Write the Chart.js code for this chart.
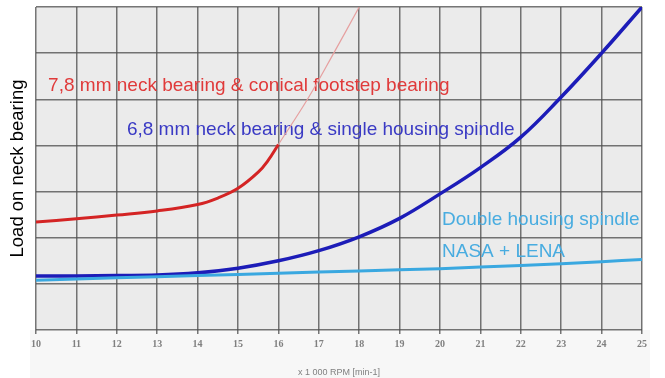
<!DOCTYPE html>
<html>
<head>
<meta charset="utf-8">
<script src="https://cdn.jsdelivr.net/npm/chart.js@4.4.1/dist/chart.umd.min.js"></script>
<style>
  html, body { margin: 0; padding: 0; background: #fff; }
  #wrap { width: 665px; height: 378px; }
</style>
</head>
<body>
<div id="wrap"><canvas id="myChart" width="665" height="378"></canvas></div>
<script>
// x 1000 RPM
const rpmRed = [10, 11, 12, 13, 14, 14.5, 15, 15.5, 15.75, 16];
const loadRed = [2.34, 2.41, 2.49, 2.58, 2.72, 2.86, 3.07, 3.42, 3.68, 4.02];

// thin continuation of the red curve
const rpmRedExt = [16, 16.72, 17.37, 18];
const loadRedExt = [4.02, 5.0, 6.0, 7.0];

const rpmBlue = [10, 11, 12, 13, 14, 15, 16, 17, 18, 19, 20, 21, 22, 23, 24, 25];
const loadBlue = [1.17, 1.17, 1.18, 1.19, 1.24, 1.34, 1.50, 1.72, 2.02, 2.42, 2.95, 3.52, 4.18, 5.05, 6.0, 7.0];

const rpmLight = [10, 12, 14, 16, 18, 20, 22, 24, 25];
const loadLight = [1.08, 1.13, 1.18, 1.23, 1.28, 1.33, 1.40, 1.48, 1.53];

const xTicks = [10, 11, 12, 13, 14, 15, 16, 17, 18, 19, 20, 21, 22, 23, 24, 25];

const labelTexts = [
    '7,8 mm neck bearing & conical footstep bearing',
    '6,8 mm neck bearing & single housing spindle',
    'Double housing spindle',
    'NASA + LENA'
];

function pts(xs, ys) {
    return xs.map((x, i) => ({ x: x, y: ys[i] }));
}

// where the curve names sit (data units) and their colours
const labelSpots = [
    { x: 10.3, y: 5.29, color: '#e03a3a' },
    { x: 12.25, y: 4.33, color: '#3a3ac4' },
    { x: 20.05, y: 2.38, color: '#48ace0' },
    { x: 20.05, y: 1.69, color: '#48ace0' }
];

const background = {
    id: 'background',
    beforeDraw(chart) {
        const { ctx, chartArea } = chart;
        ctx.save();
        ctx.fillStyle = '#f7f7f7';
        ctx.fillRect(chartArea.left - 6, chartArea.bottom, chartArea.right - chartArea.left + 14, chart.height - chartArea.bottom);
        ctx.fillStyle = '#ebebeb';
        ctx.fillRect(chartArea.left, chartArea.top, chartArea.right - chartArea.left, chartArea.bottom - chartArea.top);
        ctx.restore();
    }
};

const curveNames = {
    id: 'curveNames',
    beforeDatasetsDraw(chart) {
        const ctx = chart.ctx;
        const xs = chart.scales.x, ys = chart.scales.y;
        ctx.save();
        ctx.font = '19px "Liberation Sans", Arial, sans-serif';
        ctx.textBaseline = 'middle';
        ctx.textAlign = 'left';
        labelTexts.forEach((t, i) => {
            const s = labelSpots[i];
            ctx.fillStyle = s.color;
            ctx.fillText(t, xs.getPixelForValue(s.x), ys.getPixelForValue(s.y));
        });
        ctx.restore();
    }
};

const ctx = document.getElementById('myChart').getContext('2d');
const myChart = new Chart(ctx, {
    type: 'line',
    data: {
        datasets: [{
            label: 'NASA + LENA',
            data: pts(rpmLight, loadLight),
            borderColor: '#3aa8e0',
            borderWidth: 3,
            pointRadius: 0,
            tension: 0.4
        }, {
            label: '6,8 mm',
            data: pts(rpmBlue, loadBlue),
            borderColor: '#1c1cb8',
            borderWidth: 3.5,
            pointRadius: 0,
            tension: 0.4
        }, {
            label: '7,8 mm ext',
            data: pts(rpmRedExt, loadRedExt),
            borderColor: '#e6a0a0',
            borderWidth: 1.2,
            pointRadius: 0,
            tension: 0.4
        }, {
            label: '7,8 mm',
            data: pts(rpmRed, loadRed),
            borderColor: '#d42424',
            borderWidth: 3,
            pointRadius: 0,
            tension: 0.4
        }]
    },
    options: {
        responsive: false,
        animation: false,
        layout: { padding: { top: 7, right: 23, left: 0, bottom: 0 } },
        plugins: {
            legend: { display: false },
            tooltip: { enabled: false }
        },
        scales: {
            x: {
                type: 'linear',
                min: 10,
                max: 25,
                afterBuildTicks: (scale) => { scale.ticks = xTicks.map(v => ({ value: v })); },
                afterFit: (scale) => { scale.height = 48; },
                border: { display: false },
                grid: {
                    color: 'rgba(80, 80, 80, 0.78)',
                    lineWidth: 1.5,
                    drawTicks: true,
                    tickLength: 4
                },
                ticks: {
                    color: '#808080',
                    font: { family: '"Liberation Serif", serif', size: 10, weight: 'bold' },
                    padding: 4,
                    maxRotation: 0
                },
                title: {
                    display: true,
                    text: 'x 1 000 RPM [min-1]',
                    color: '#808080',
                    font: { family: '"Liberation Sans", Arial, sans-serif', size: 9 },
                    padding: { top: 6, bottom: 0 }
                }
            },
            y: {
                min: 0,
                max: 7,
                afterBuildTicks: (scale) => { scale.ticks = [0, 1, 2, 3, 4, 5, 6, 7].map(v => ({ value: v })); },
                afterFit: (scale) => { scale.width = 36; },
                border: { display: false },
                grid: {
                    color: 'rgba(80, 80, 80, 0.78)',
                    lineWidth: 1.5,
                    drawTicks: false
                },
                ticks: { display: false },
                title: {
                    display: true,
                    text: 'Load on neck bearing',
                    color: '#000',
                    font: { family: '"Liberation Sans", Arial, sans-serif', size: 18.5 },
                    padding: { top: 7, bottom: 0 }
                }
            }
        }
    },
    plugins: [background, curveNames]
});
</script>
</body>
</html>
